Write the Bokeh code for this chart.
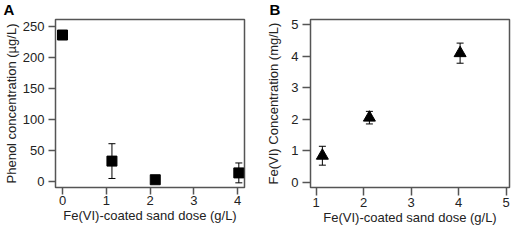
from bokeh.plotting import figure
from bokeh.layouts import row
from bokeh.models import Range1d, FixedTicker, Whisker, ColumnDataSource
from bokeh.embed import file_html
from bokeh.resources import INLINE

# Panel A data
dose_a = [0.0, 1.13, 2.12, 4.03]
phenol = [236, 33, 3, 14]
phenol_err = [0, 28, 0, 16]
# Panel B data
dose_b = [1.13, 2.12, 4.03]
fe6 = [0.84, 2.05, 4.10]
fe6_err = [0.30, 0.20, 0.32]

xticks_a = [0, 1, 2, 3, 4]
yticks_a = [0, 50, 100, 150, 200, 250]
xticks_b = [1, 2, 3, 4, 5]
yticks_b = [0, 1, 2, 3, 4, 5]
xlabel = "Fe(VI)-coated sand dose (g/L)"
ylabel_a = "Phenol concentration (µg/L)"
ylabel_b = "Fe(VI) Concentration (mg/L)"

FONT = "Liberation Sans"
FRAME = "#555555"
TXT = "#222222"


def style(p, xt, yt, ylab, xtick, xstand, ytick, ystand, ylstand):
    p.outline_line_color = FRAME
    p.outline_line_width = 1.5
    p.grid.visible = False
    p.xaxis.ticker = FixedTicker(ticks=xt)
    p.yaxis.ticker = FixedTicker(ticks=yt)
    for ax in (p.xaxis[0], p.yaxis[0]):
        ax.axis_line_color = None
        ax.major_tick_in = 0
        ax.minor_tick_out = 0
        ax.minor_tick_in = 0
        ax.major_tick_line_color = FRAME
        ax.major_tick_line_width = 1.5
        ax.major_label_text_font = FONT
        ax.major_label_text_font_size = "13px"
        ax.major_label_text_color = TXT
        ax.major_label_text_line_height = 1.0
        ax.axis_label_text_font = FONT
        ax.axis_label_text_font_size = "13px"
        ax.axis_label_text_font_style = "normal"
        ax.axis_label_text_color = TXT
        ax.axis_label_text_line_height = 1.0
    p.xaxis.major_tick_out = xtick
    p.yaxis.major_tick_out = ytick
    p.xaxis.axis_label = xlabel
    p.yaxis.axis_label = ylab
    p.xaxis.major_label_standoff = xstand
    p.yaxis.major_label_standoff = ystand
    p.xaxis.axis_label_standoff = 0
    p.yaxis.axis_label_standoff = ylstand
    p.title.text_font = FONT
    p.title.text_font_size = "15px"
    p.title.text_font_style = "bold"
    p.title.text_color = "black"
    p.title.align = "left"
    p.title.standoff = 0
    p.title.vertical_align = "top"


# ---- Panel A ----
pa = figure(width=257, height=227, output_backend="svg", toolbar_location=None,
            x_range=Range1d(-0.16, 4.16), y_range=Range1d(-9.5, 261),
            min_border_left=47, min_border_right=13, min_border_top=16, min_border_bottom=40,
            title="A")
style(pa, xticks_a, yticks_a, ylabel_a, 7, 1, 7, 4, 1)
pa.title.offset = -52

src_a = ColumnDataSource(dict(x=dose_a, y=phenol,
                              lo=[v - e for v, e in zip(phenol, phenol_err)],
                              hi=[v + e for v, e in zip(phenol, phenol_err)]))
wa = Whisker(source=src_a, base="x", lower="lo", upper="hi", line_color="black", line_width=1)
for h in (wa.upper_head, wa.lower_head):
    h.size = 7
    h.line_color = "black"
pa.add_layout(wa)
pa.scatter("x", "y", source=src_a, marker="square", size=10, color="black")

# ---- Panel B ----
pb = figure(width=256, height=227, output_backend="svg", toolbar_location=None,
            x_range=Range1d(0.88, 5.07), y_range=Range1d(-0.17, 5.17),
            min_border_left=53, min_border_right=4, min_border_top=19, min_border_bottom=40,
            title="B")
style(pb, xticks_b, yticks_b, ylabel_b, 8, 2, 8, 4, 7)
pb.title.offset = -41

src_b = ColumnDataSource(dict(x=dose_b, y=fe6,
                              lo=[v - e for v, e in zip(fe6, fe6_err)],
                              hi=[v + e for v, e in zip(fe6, fe6_err)]))
wb = Whisker(source=src_b, base="x", lower="lo", upper="hi", line_color="black", line_width=1)
for h in (wb.upper_head, wb.lower_head):
    h.size = 7
    h.line_color = "black"
pb.add_layout(wb)
pb.scatter("x", "y", source=src_b, marker="triangle", size=12, color="black")

layout = row(pa, pb)
open("out.html", "w").write(file_html(layout, INLINE))
